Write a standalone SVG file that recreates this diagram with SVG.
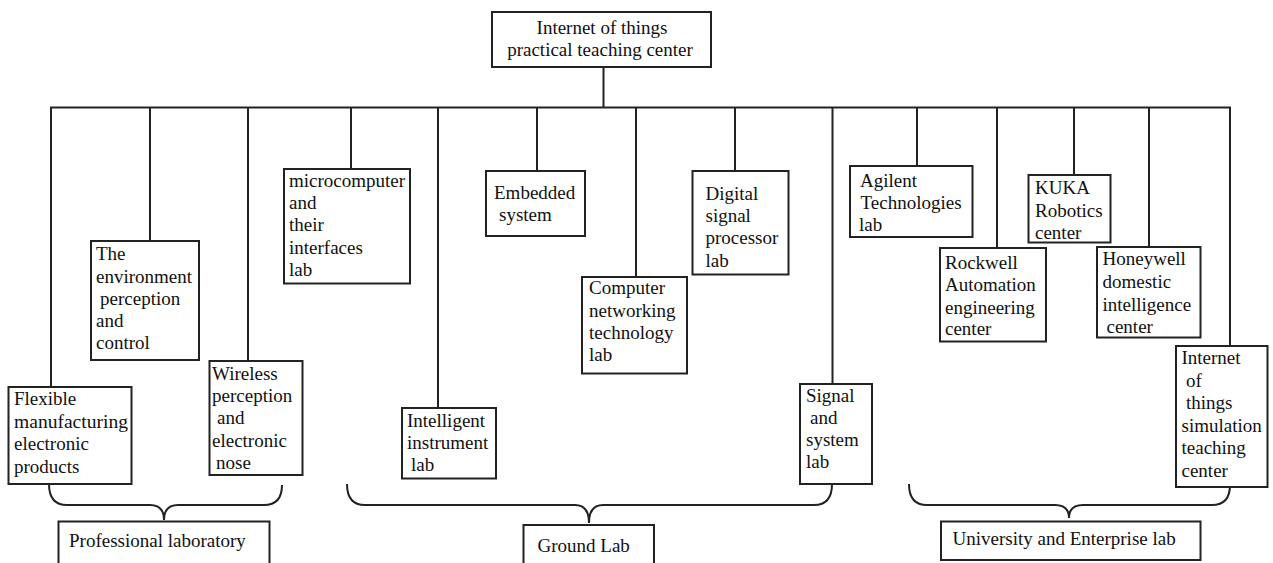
<svg xmlns="http://www.w3.org/2000/svg" width="1273" height="563" viewBox="0 0 1273 563">
<style>
  .box { fill: #ffffff; stroke: #222; stroke-width: 2; }
  .ln { fill: none; stroke: #222; stroke-width: 2; }
  text { font-family: "Liberation Serif", "Times New Roman", serif; font-size: 19px; fill: #111; }
  .c { text-anchor: middle; }
</style>
<rect x="0" y="0" width="1273" height="563" fill="#ffffff"/>
<g id="connectors">
  <line class="ln" x1="603.5" y1="67" x2="603.5" y2="107.5"/>
  <line class="ln" x1="50" y1="107.5" x2="1231" y2="107.5"/>
  <line class="ln" x1="51" y1="107" x2="51" y2="387"/>
  <line class="ln" x1="150" y1="107" x2="150" y2="241"/>
  <line class="ln" x1="248" y1="107" x2="248" y2="361"/>
  <line class="ln" x1="351" y1="107" x2="351" y2="169"/>
  <line class="ln" x1="438" y1="107" x2="438" y2="408"/>
  <line class="ln" x1="537" y1="107" x2="537" y2="171"/>
  <line class="ln" x1="636" y1="107" x2="636" y2="277"/>
  <line class="ln" x1="735" y1="107" x2="735" y2="171" stroke-width="2.5"/>
  <line class="ln" x1="832.5" y1="107" x2="832.5" y2="384"/>
  <line class="ln" x1="917" y1="107" x2="917" y2="166"/>
  <line class="ln" x1="997" y1="107" x2="997" y2="248"/>
  <line class="ln" x1="1074" y1="107" x2="1074" y2="175" stroke-width="2.5"/>
  <line class="ln" x1="1149" y1="107" x2="1149" y2="247"/>
  <line class="ln" x1="1230" y1="107" x2="1230" y2="346"/>
  <path class="ln" d="M49,484 Q49,505 67,505 L150,505 Q164,505 164,520 Q164,505 178,505 L264,505 Q282,505 282,485"/>
  <path class="ln" d="M347,484 Q347,505 365,505 L575,505 Q589,505 589,523 Q589,505 603,505 L814,505 Q832,505 832,484"/>
  <path class="ln" d="M909,484 Q909,505 927,505 L1055,505 Q1069,505 1069,518 Q1069,505 1083,505 L1212,505 Q1230,505 1230,485"/>
</g>
<g id="root">
  <rect class="box" x="492" y="12" width="219" height="55"/>
  <text class="c" x="602" y="33.5">Internet of things</text>
  <text class="c" x="600" y="55.5">practical teaching center</text>
</g>
<g id="flexible">
  <rect class="box" x="8.5" y="387" width="123" height="97"/>
  <text x="14" y="405">Flexible</text>
  <text x="14" y="428" textLength="114" lengthAdjust="spacingAndGlyphs">manufacturing</text>
  <text x="14" y="450">electronic</text>
  <text x="14" y="472.5">products</text>
</g>
<g id="environment">
  <rect class="box" x="91" y="241" width="108" height="119"/>
  <text x="96" y="260">The</text>
  <text x="96" y="282.5">environment</text>
  <text x="100" y="305">perception</text>
  <text x="96" y="327">and</text>
  <text x="96" y="349">control</text>
</g>
<g id="wireless">
  <rect class="box" x="209.5" y="361" width="93" height="114"/>
  <text x="212" y="379.5">Wireless</text>
  <text x="212" y="402">perception</text>
  <text x="217" y="424">and</text>
  <text x="212" y="446.5">electronic</text>
  <text x="216" y="469">nose</text>
</g>
<g id="microcomputer">
  <rect class="box" x="284" y="169" width="126" height="114.5"/>
  <text x="289" y="186.5">microcomputer</text>
  <text x="289" y="208.5">and</text>
  <text x="289" y="231">their</text>
  <text x="289" y="253.5">interfaces</text>
  <text x="289" y="275.5">lab</text>
</g>
<g id="intelligent">
  <rect class="box" x="402" y="408" width="94" height="70.5"/>
  <text x="407" y="426.5">Intelligent</text>
  <text x="407" y="449">instrument</text>
  <text x="411" y="471">lab</text>
</g>
<g id="embedded">
  <rect class="box" x="486" y="171" width="99" height="65"/>
  <text x="494" y="198.5">Embedded</text>
  <text x="499" y="221">system</text>
</g>
<g id="computer">
  <rect class="box" x="582" y="277" width="105" height="96.5"/>
  <text x="589" y="294">Computer</text>
  <text x="589" y="316.5">networking</text>
  <text x="589" y="339">technology</text>
  <text x="589" y="361">lab</text>
</g>
<g id="digital">
  <rect class="box" x="692.5" y="171" width="96" height="103.5"/>
  <text x="705.5" y="199.5">Digital</text>
  <text x="705.5" y="222">signal</text>
  <text x="705.5" y="244">processor</text>
  <text x="705.5" y="266.5">lab</text>
</g>
<g id="signal">
  <rect class="box" x="800" y="384" width="72" height="100"/>
  <text x="806" y="401.5">Signal</text>
  <text x="810" y="424">and</text>
  <text x="806" y="446">system</text>
  <text x="806" y="468">lab</text>
</g>
<g id="agilent">
  <rect class="box" x="850" y="166" width="122.5" height="71"/>
  <text x="860" y="187">Agilent</text>
  <text x="860.5" y="209">Technologies</text>
  <text x="859" y="230.5">lab</text>
</g>
<g id="rockwell">
  <rect class="box" x="940" y="248" width="106" height="93.5"/>
  <text x="945" y="268.5">Rockwell</text>
  <text x="945" y="291">Automation</text>
  <text x="945" y="313.5">engineering</text>
  <text x="945" y="335">center</text>
</g>
<g id="kuka">
  <rect class="box" x="1028.5" y="175" width="82" height="67.5"/>
  <text x="1035" y="194">KUKA</text>
  <text x="1035" y="216.5">Robotics</text>
  <text x="1035" y="238.5">center</text>
</g>
<g id="honeywell">
  <rect class="box" x="1097" y="247" width="103.5" height="90.5"/>
  <text x="1102.5" y="265">Honeywell</text>
  <text x="1102.5" y="288">domestic</text>
  <text x="1102.5" y="310.5">intelligence</text>
  <text x="1106.5" y="333">center</text>
</g>
<g id="iot-simulation">
  <rect class="box" x="1176" y="346" width="91.5" height="141"/>
  <text x="1181.5" y="364">Internet</text>
  <text x="1186" y="386.5">of</text>
  <text x="1186" y="409">things</text>
  <text x="1181.5" y="431.5">simulation</text>
  <text x="1181.5" y="454">teaching</text>
  <text x="1181.5" y="476.5">center</text>
</g>
<g id="professional">
  <rect class="box" x="58.5" y="521.5" width="211" height="60"/>
  <text x="69" y="547">Professional laboratory</text>
</g>
<g id="ground">
  <rect class="box" x="523.5" y="525" width="130.5" height="60"/>
  <text x="537.5" y="552">Ground Lab</text>
</g>
<g id="university">
  <rect class="box" x="941" y="521.5" width="259.5" height="38.5"/>
  <text x="952.5" y="545">University and Enterprise lab</text>
</g>
</svg>
